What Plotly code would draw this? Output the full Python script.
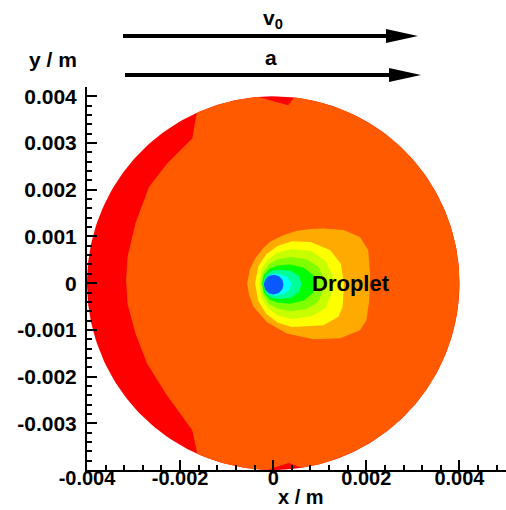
import numpy as np
import plotly.graph_objects as go

# ---------------- data (metres) ----------------
domain_radius = 0.004

# inner edge of the red crescent on the left (top -> bottom)
crescent_inner_x = [-0.00164, -0.00174, -0.00228, -0.00267, -0.00296, -0.00313, -0.00316,
                    -0.00313, -0.00296, -0.00271, -0.00231, -0.00174, -0.00163]
crescent_inner_y = [0.00365, 0.00310, 0.00256, 0.00206, 0.00128, 0.00056, 0.00006,
                    -0.00044, -0.00108, -0.00172, -0.00236, -0.00315, -0.00365]

# small red notches at top and bottom of the domain (left end, tip, right end)
top_notch_x = [-0.00032, 0.00032, 0.00045]
top_notch_y = [0.00399, 0.00381, 0.00397]
bottom_notch_x = [-0.00014, 0.00033, 0.00061]
bottom_notch_y = [-0.00399, -0.00385, -0.00395]

# contour bands around the droplet (outer -> inner)
orange_x = [-0.00056, -0.00050, -0.00039, -0.00022, -0.00006, 0.00020, 0.00051, 0.00080, 0.00108,
            0.00151, 0.00186, 0.00204, 0.00208, 0.00206, 0.00200, 0.00186, 0.00144, 0.00086,
            0.00029, -0.00014, -0.00042, -0.00052]
orange_y = [0.0, 0.00030, 0.00053, 0.00074, 0.00089, 0.00102, 0.00112, 0.00116, 0.00117,
            0.00114, 0.00099, 0.00071, 0.00020, -0.00040, -0.00080, -0.00101, -0.00118, -0.00120,
            -0.00108, -0.00083, -0.00051, -0.00025]

yellow_x = [-0.00039, -0.00032, -0.00015, 0.00010, 0.00040, 0.00080, 0.00122, 0.00145, 0.00152,
            0.00149, 0.00140, 0.00108, 0.00040, 0.00010, -0.00015, -0.00032]
yellow_y = [0.0, 0.00036, 0.00062, 0.00080, 0.00090, 0.00088, 0.00071, 0.00042, 0.0,
            -0.00051, -0.00072, -0.00090, -0.00094, -0.00085, -0.00066, -0.00038]

ygreen_x = [-0.00030, -0.00026, -0.00012, 0.00010, 0.00040, 0.00082, 0.00112, 0.00128, 0.00128,
            0.00112, 0.00082, 0.00040, 0.00010, -0.00012, -0.00026]
ygreen_y = [0.0, 0.00029, 0.00050, 0.00066, 0.00073, 0.00069, 0.00048, 0.00016, -0.00016,
            -0.00054, -0.00071, -0.00077, -0.00069, -0.00053, -0.00031]

green1_x = [-0.00026, -0.00022, -0.00010, 0.00010, 0.00038, 0.00070, 0.00095, 0.00108, 0.00108,
            0.00095, 0.00070, 0.00038, 0.00010, -0.00010, -0.00022]
green1_y = [0.0, 0.00022, 0.00040, 0.00051, 0.00056, 0.00052, 0.00037, 0.00013, -0.00014,
            -0.00042, -0.00056, -0.00060, -0.00055, -0.00044, -0.00024]

green2_x = [-0.00024, -0.00020, -0.00008, 0.00010, 0.00037, 0.00066, 0.00085, 0.00090, 0.00085,
            0.00066, 0.00037, 0.00010, -0.00008, -0.00020]
green2_y = [0.0, 0.00018, 0.00031, 0.00038, 0.00040, 0.00033, 0.00018, 0.0, -0.00021,
            -0.00037, -0.00044, -0.00042, -0.00035, -0.00020]

gcyan_x = [-0.00022, -0.00017, -0.00005, 0.00015, 0.00038, 0.00055, 0.00061, 0.00055, 0.00038,
           0.00015, -0.00005, -0.00017]
gcyan_y = [0.0, 0.00017, 0.00026, 0.00029, 0.00026, 0.00015, -0.00002, -0.00019, -0.00031,
           -0.00034, -0.00031, -0.00021]

cyan_x = [0.0, 0.00016, 0.00030, 0.00039, 0.00036, 0.00023, 0.00005, -0.00010, -0.00010]
cyan_y = [0.00020, 0.00019, 0.00013, 0.0, -0.00013, -0.00023, -0.00027, -0.00023, 0.00016]

band_x = [orange_x, yellow_x, ygreen_x, green1_x, green2_x, gcyan_x, cyan_x]
band_y = [orange_y, yellow_y, ygreen_y, green1_y, green2_y, gcyan_y, cyan_y]
band_colors = ["#ffaa00", "#ffff00", "#c8ff00", "#80ff00", "#00ff00", "#00ff99", "#00ffff"]

droplet_cx, droplet_cy, droplet_r = 0.00001, -0.00003, 0.00021

x_tickvals = [-0.004, -0.002, 0.0, 0.002, 0.004]
x_ticktext = ["-0.004", "-0.002", "0", "0.002", "0.004"]
y_tickvals = [-0.003, -0.002, -0.001, 0.0, 0.001, 0.002, 0.003, 0.004]
y_ticktext = ["-0.003", "-0.002", "-0.001", "0", "0.001", "0.002", "0.003", "0.004"]

RED = "#ff0000"
ORANGE_RED = "#ff5a00"
DROPLET_BLUE = "#0a58ff"

# ---------------- geometry helpers ----------------
def arc(a0, a1, n=80):
    t = np.linspace(a0, a1, n)
    return list(domain_radius * np.cos(t)), list(domain_radius * np.sin(t))

def ang(x, y):
    return float(np.arctan2(y, x)) % (2 * np.pi)

# full red disc
disc_x, disc_y = arc(0, 2 * np.pi, 240)

# orange-red region: inner crescent edge, then around the right along the circle with notches
a_top_left = ang(crescent_inner_x[0], crescent_inner_y[0])
a_bot_left = ang(crescent_inner_x[-1], crescent_inner_y[-1])
a_bn_l = ang(bottom_notch_x[0], bottom_notch_y[0])
a_bn_r = ang(bottom_notch_x[2], bottom_notch_y[2])
a_tn_r = ang(top_notch_x[2], top_notch_y[2]) + 2 * np.pi
a_tn_l = ang(top_notch_x[0], top_notch_y[0])

ox, oy = list(crescent_inner_x), list(crescent_inner_y)
ax_, ay_ = arc(a_bot_left, a_bn_l, 30); ox += ax_; oy += ay_
ox.append(bottom_notch_x[1]); oy.append(bottom_notch_y[1])
ax_, ay_ = arc(a_bn_r, a_tn_r, 200); ox += ax_; oy += ay_
ox.append(top_notch_x[1]); oy.append(top_notch_y[1])
ax_, ay_ = arc(a_tn_l, a_top_left, 20); ox += ax_; oy += ay_

fig = go.Figure()

def poly(x, y, color):
    fig.add_trace(go.Scatter(x=x, y=y, mode="lines", fill="toself", fillcolor=color,
                             line=dict(width=0, color=color), hoverinfo="skip",
                             showlegend=False))

poly(disc_x, disc_y, RED)
poly(ox, oy, ORANGE_RED)
for bx, by, c in zip(band_x, band_y, band_colors):
    poly(bx, by, c)

dt = np.linspace(0, 2 * np.pi, 60)
poly(list(droplet_cx + droplet_r * np.cos(dt)), list(droplet_cy + droplet_r * np.sin(dt)), DROPLET_BLUE)

# ---------------- layout ----------------
W, H = 506, 510
L, R, T, B = 87, 0, 87, 40
PW, PH = W - L - R, H - T - B

def px(xp):
    return (xp - L) / PW

def py(yp):
    return (H - B - yp) / PH

FONT = "Liberation Sans, Arial, sans-serif"
tickfont = dict(family=FONT, size=21, color="black", weight="bold")
xtickfont = dict(family=FONT, size=20, color="black", weight="bold")
labfont = dict(family=FONT, size=21, color="black", weight="bold")

shapes = []
for (x0, x1, yy) in [(123, 418, 36), (125, 421, 75)]:
    head = 32
    shapes.append(dict(type="line", xref="paper", yref="paper",
                       x0=px(x0), x1=px(x1 - head + 2), y0=py(yy), y1=py(yy),
                       line=dict(color="black", width=4)))
    shapes.append(dict(type="path", xref="paper", yref="paper",
                       path=f"M {px(x1 - head)},{py(yy - 7)} L {px(x1)},{py(yy)} L {px(x1 - head)},{py(yy + 7)} Z",
                       fillcolor="black", line=dict(color="black", width=0)))

def ann(text, x, y, font, xref="paper", yref="paper", yanchor="middle"):
    return dict(text=text, xref=xref, yref=yref, x=x, y=y, xanchor="center", yanchor=yanchor,
                showarrow=False, font=font)

annotations = [
    ann("v<sub>0</sub>", px(273), py(19), labfont),
    ann("a", px(271), py(57), labfont),
    ann("y / m", px(53), py(59), labfont),
    ann("x / m", px(301), py(510), dict(family=FONT, size=20, color="black", weight="bold"),
        yanchor="bottom"),
    ann("Droplet", 0.00168, 0.0, dict(family=FONT, size=22, color="black", weight="bold"),
        xref="x", yref="y"),
]

fig.update_layout(
    width=W, height=H, margin=dict(l=L, r=R, t=T, b=B, pad=0),
    paper_bgcolor="white", plot_bgcolor="white",
    showlegend=False, shapes=shapes, annotations=annotations,
    xaxis=dict(range=[-0.004, 0.005], showgrid=False, zeroline=False,
               showline=True, linecolor="black", linewidth=2,
               ticks="inside", ticklen=10, tickwidth=2, tickcolor="black",
               tickmode="array", tickvals=x_tickvals, ticktext=x_ticktext,
               tickfont=xtickfont, ticklabelstandoff=-11,
               minor=dict(ticks="inside", ticklen=5, tickwidth=1.5, tickcolor="black",
                          tick0=-0.004, dtick=0.0004, showgrid=False)),
    yaxis=dict(range=[-0.004, 0.0042], showgrid=False, zeroline=False,
               showline=True, linecolor="black", linewidth=2,
               ticks="inside", ticklen=10, tickwidth=2, tickcolor="black",
               tickmode="array", tickvals=y_tickvals, ticktext=y_ticktext,
               tickfont=tickfont, ticklabelstandoff=4,
               minor=dict(ticks="inside", ticklen=5, tickwidth=1.5, tickcolor="black",
                          tick0=-0.004, dtick=0.0002, showgrid=False)),
)

fig.write_html("out.html")
